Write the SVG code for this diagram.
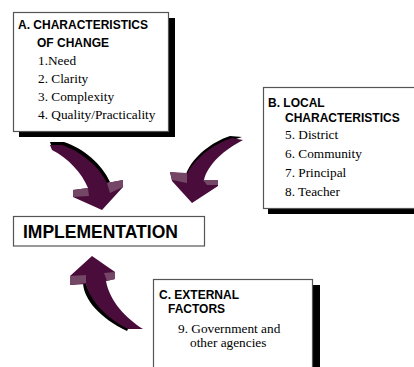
<svg xmlns="http://www.w3.org/2000/svg" width="414" height="367" viewBox="0 0 414 367">
<style>
.box{fill:#fff;stroke:#555;stroke-width:1.2}
.shadow{fill:#000}
.hd{font-family:"Liberation Sans",Arial,sans-serif;font-weight:bold;font-size:12px;fill:#000}
.it{font-family:"Times New Roman","Liberation Serif","DejaVu Serif",serif;font-size:13.3px;fill:#000}
.imp{font-family:"Liberation Sans",Arial,sans-serif;font-weight:bold;font-size:17.5px;fill:#000}
.body{fill:#4a0c3a}
.lite{fill:#744766}
.sh{fill:#000}
</style>
<rect width="414" height="367" fill="#fff"/>
<g id="nodeA">
<rect class="shadow" x="19" y="18" width="156" height="119"/>
<rect class="box" x="13.5" y="12.5" width="155" height="119"/>
<text class="hd" x="18" y="29">A. CHARACTERISTICS</text>
<text class="hd" x="37" y="47">OF CHANGE</text>
<text class="it" x="38" y="65">1.Need</text>
<text class="it" x="38" y="83">2. Clarity</text>
<text class="it" x="38" y="101">3. Complexity</text>
<text class="it" x="38" y="119">4. Quality/Practicality</text>
</g>
<g id="nodeB">
<rect class="shadow" x="268" y="93" width="160" height="121"/>
<rect class="box" x="263.5" y="87.5" width="160" height="121"/>
<text class="hd" x="268" y="107">B. LOCAL</text>
<text class="hd" x="285" y="122">CHARACTERISTICS</text>
<text class="it" x="285" y="139">5. District</text>
<text class="it" x="285" y="158">6. Community</text>
<text class="it" x="285" y="177">7. Principal</text>
<text class="it" x="285" y="196">8. Teacher</text>
</g>
<g id="nodeImpl">
<rect class="box" x="13.5" y="216.5" width="191" height="29.5"/>
<text class="imp" x="23" y="238">IMPLEMENTATION</text>
</g>
<g id="nodeC">
<rect class="shadow" x="159" y="285" width="161" height="90"/>
<rect class="box" x="153.5" y="279.5" width="159" height="100"/>
<text class="hd" x="159" y="299">C. EXTERNAL</text>
<text class="hd" x="168" y="313">FACTORS</text>
<text class="it" x="178" y="333">9. Government and</text>
<text class="it" x="190" y="347">other agencies</text>
</g>
<g id="connectors">
<g id="arrowA">
<path class="sh" d="M50,142 L64,142 C83,148 102,164 110,182 L106,184 C98,167 80,152 62,146 L52,148 Z"/>
<path class="body" d="M50,145 L62,145 C80,151 99,166 107,183 L123,180 L123,187 L102,210 L73,197 L73,190 L88,188 C82,173 68,158 52,150 Z"/>
<polygon class="lite" points="73,190 88,188 89,196 73,197"/>
<polygon class="lite" points="107,183 123,180 123,187 110,193"/>
</g>
<g id="arrowB">
<path class="sh" d="M230,136 L242,137 C222,143 199,157 190,174 L186,174 C193,156 212,142 230,136 Z"/>
<path class="body" d="M232,138 L243,140 C224,150 208,164 204,180 L218,180 L218,186 L192,203 L172,181 L170,172 L187,174 C195,158 213,144 232,138 Z"/>
<polygon class="lite" points="170,172 187,173 187,183 172,180"/>
<polygon class="lite" points="203,180 218,180 218,185 207,185"/>
</g>
<g id="arrowC">
<path class="sh" d="M83,283 C84,300 100,318 127,331 L129,327 C108,315 90,300 86,283 Z"/>
<path class="body" d="M92,256 L115,272 L115,279 L106,281 C110,302 126,318 143,329 L128,329 C106,318 90,300 86,284 L70,285 L70,276 Z"/>
<polygon class="lite" points="70,276 86,275 86,283 70,285"/>
<polygon class="lite" points="104,273 115,272 115,279 107,281"/>
</g>
</g>
</svg>
